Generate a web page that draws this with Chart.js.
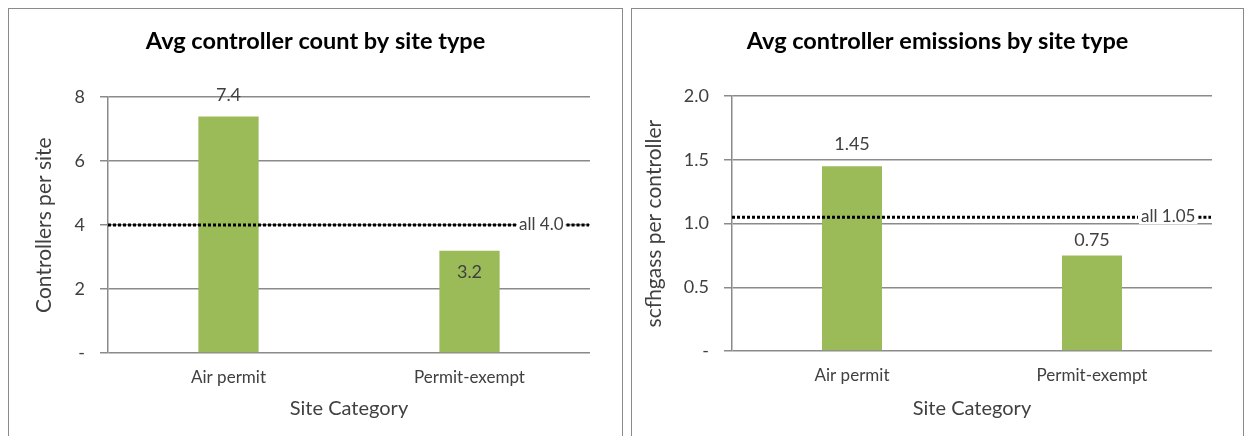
<!DOCTYPE html>
<html>
<head>
<meta charset="utf-8">
<script src="https://cdn.jsdelivr.net/npm/chart.js@4"></script>
<style>
  html, body { margin: 0; padding: 0; background: #fff; width: 1244px; height: 436px; overflow: hidden; }
  .panel { position: absolute; top: 8px; height: 440px; border: 1px solid #8a8a8a; box-sizing: border-box; background: #fff; }
  #p1 { left: 8px; width: 615px; }
  #p2 { left: 631px; width: 613px; }
  .panel canvas { position: absolute; left: 0; top: 0; }
</style>
</head>
<body>
<div class="panel" id="p1"><canvas id="c1" width="613" height="427"></canvas></div>
<div class="panel" id="p2"><canvas id="c2" width="611" height="427"></canvas></div>
<script>
// Site categories shared by both charts
const categories = ['Air permit', 'Permit-exempt'];

// Average controller count per site
const countValues = [7.4, 3.2];
const countAll = 4.0;
const countTicks = { max: 8, step: 2 };

// Average controller emissions (scfh gas per controller)
const emissionValues = [1.45, 0.75];
const emissionAll = 1.05;
const emissionTicks = { max: 2.0, step: 0.5 };

const FONT = 'Lato, "Open Sans", sans-serif';
const TEXT = '#404040';
const GRID = '#8a8a8a';
const BAR = '#9bbb59';

// Value labels drawn on each bar (offset: px above bar top; negative = inside)
const barLabels = {
  id: 'barLabels',
  afterDatasetsDraw(chart, args, opts) {
    const { ctx } = chart;
    const meta = chart.getDatasetMeta(0);
    const data = chart.data.datasets[0].data;
    ctx.save();
    ctx.font = '18px ' + FONT;
    ctx.fillStyle = TEXT;
    ctx.textAlign = 'center';
    ctx.textBaseline = 'middle';
    meta.data.forEach((bar, i) => {
      ctx.fillText(opts.format(data[i]), bar.x, bar.y - opts.offsets[i]);
    });
    ctx.restore();
  }
};

// Dotted "all sites" reference line with its label near the right end
const avgLine = {
  id: 'avgLine',
  afterDatasetsDraw(chart, args, opts) {
    const { ctx, chartArea } = chart;
    const y = chart.scales.y.getPixelForValue(opts.value);
    ctx.save();
    ctx.font = '17px ' + FONT;
    const text = opts.label;
    const tw = ctx.measureText(text).width;
    const lx = chartArea.right - 71;
    const xEnd = chartArea.right - 1;
    ctx.fillStyle = '#fff';
    ctx.fillRect(lx - 2, y - 8, tw + 4, 15);
    ctx.strokeStyle = '#000';
    ctx.lineWidth = 3;
    ctx.setLineDash([3, 2]);
    ctx.beginPath();
    ctx.moveTo(chartArea.left, y);
    ctx.lineTo(lx - 3, y);
    ctx.moveTo(lx + tw + 3, y);
    ctx.lineTo(xEnd, y);
    ctx.stroke();
    ctx.setLineDash([]);
    ctx.fillStyle = TEXT;
    ctx.textAlign = 'left';
    ctx.textBaseline = 'middle';
    ctx.fillText(text, lx, y - 1);
    ctx.restore();
  }
};

function makeChart(id, cfg) {
  return new Chart(document.getElementById(id), {
    type: 'bar',
    data: {
      labels: categories,
      datasets: [{
        data: cfg.values,
        backgroundColor: BAR,
        borderWidth: 0,
        categoryPercentage: 1.0,
        barPercentage: 0.25
      }]
    },
    options: {
      responsive: false,
      animation: false,
      events: [],
      layout: { padding: 0 },
      plugins: {
        legend: { display: false },
        tooltip: { enabled: false },
        title: {
          display: true,
          text: cfg.title,
          color: '#000',
          font: { family: FONT, size: 23.5, weight: 'bold', lineHeight: 1.2 },
          padding: { top: 18, bottom: cfg.titleGap }
        },
        barLabels: { offsets: cfg.labelOffsets, format: cfg.labelFormat },
        avgLine: { value: cfg.all, label: cfg.allLabel }
      },
      scales: {
        x: {
          grid: { display: false, drawTicks: false },
          border: { display: false },
          ticks: { color: TEXT, font: { family: FONT, size: 17 }, padding: 14 },
          title: {
            display: true,
            text: 'Site Category',
            color: TEXT,
            font: { family: FONT, size: 20 },
            padding: { top: 0, bottom: 15 }
          },
          afterFit(scale) { scale.height = cfg.xHeight; }
        },
        y: {
          min: 0,
          max: cfg.ticks.max,
          grid: { color: GRID, lineWidth: 1.5, tickLength: 8, drawTicks: true },
          border: { display: true, color: GRID, width: 1.5 },
          ticks: {
            stepSize: cfg.ticks.step,
            color: TEXT,
            font: { family: FONT, size: 18 },
            padding: 15,
            callback: (v) => v === 0 ? '-' : cfg.tickFormat(v)
          },
          title: {
            display: true,
            text: cfg.yTitle,
            color: TEXT,
            font: { family: FONT, size: 21 },
            padding: { top: cfg.yTitlePad, bottom: 0 }
          },
          afterFit(scale) { scale.width = cfg.yWidth; }
        },
        // empty right-hand margin so the title stays centred on the whole panel
        margin: {
          type: 'linear',
          position: 'right',
          grid: { display: false, drawTicks: false },
          border: { display: false },
          ticks: { display: false },
          afterFit(scale) { scale.width = cfg.padRight; }
        }
      }
    },
    plugins: [avgLine, barLabels]
  });
}

makeChart('c1', {
  title: 'Avg controller count by site type',
  yTitle: 'Controllers per site',
  values: countValues,
  all: countAll,
  allLabel: 'all ' + countAll.toFixed(1),
  ticks: countTicks,
  tickFormat: (v) => String(v),
  labelFormat: (v) => v.toFixed(1),
  labelOffsets: [21, -22],
  padRight: 32,
  titleGap: 42,
  xHeight: 83,
  yWidth: 99,
  yTitlePad: 23
});

makeChart('c2', {
  title: 'Avg controller emissions by site type',
  yTitle: 'scfhgass per controller',
  values: emissionValues,
  all: emissionAll,
  allLabel: 'all ' + emissionAll.toFixed(2),
  ticks: emissionTicks,
  tickFormat: (v) => v.toFixed(1),
  labelFormat: (v) => v.toFixed(2),
  labelOffsets: [22, 15],
  padRight: 31,
  titleGap: 41,
  xHeight: 85,
  yWidth: 100,
  yTitlePad: 10
});
</script>
</body>
</html>
